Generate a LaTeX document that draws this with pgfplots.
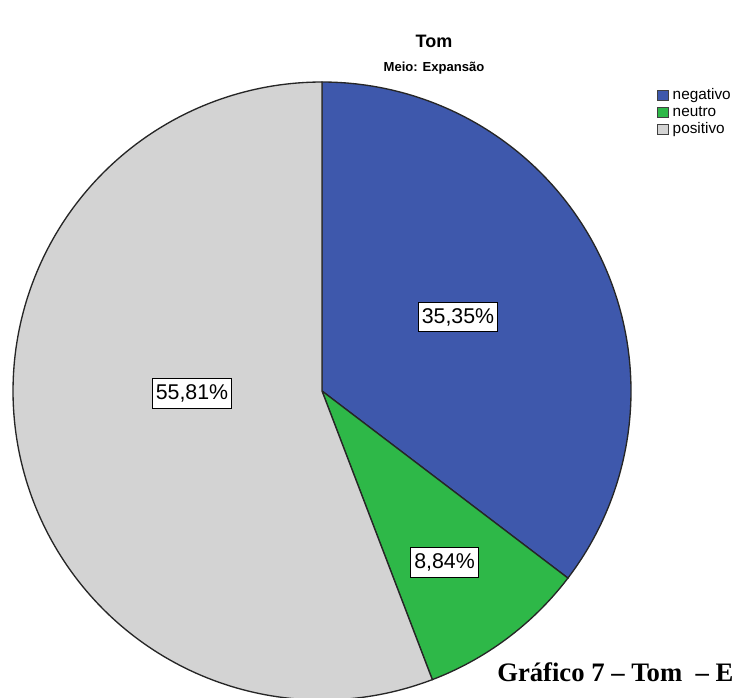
\documentclass[border=0pt]{standalone}
\usepackage{pgfplots}
\pgfplotsset{compat=1.18}
\usepackage{fontspec}
\setmainfont{Liberation Sans}
\newfontfamily\serifb{Liberation Serif}
\definecolor{negblue}{HTML}{3E58AC}
\definecolor{neugreen}{HTML}{2EB848}
\definecolor{posgrey}{HTML}{D3D3D3}
% shares in percent
\def\vneg{35.35}
\def\vneu{8.84}
\def\vpos{55.81}
\begin{document}
\begin{tikzpicture}[x=0.75pt,y=0.75pt]
\begin{axis}[
  scale only axis, width=550.5pt, height=522.75pt,
  xmin=0, xmax=734, ymin=0, ymax=697,
  hide axis, clip=true,
  legend cell align=left,
  legend style={at={(axis cs:657,609)}, anchor=north west, draw=none, fill=none,
    font=\fontsize{11.5pt}{13pt}\selectfont, row sep=1.6pt, inner sep=0pt,
    nodes={inner sep=0pt, text height=8.4pt, text depth=2.6pt},
    /tikz/every odd column/.append style={column sep=3pt}},
  legend image code/.code={\draw[#1,draw=black!75,line width=0.6pt] (0pt,-3.9pt) rectangle (8pt,3.9pt);},
]
\addplot[fill=negblue, draw=black!85, line width=1pt, domain={90-3.6*\vneg}:90, samples=120]
  ({322+309*cos(x)},{306+309*sin(x)}) -- (axis cs:322,306) -- cycle;
\addlegendentry{negativo}
\addplot[fill=neugreen, draw=black!85, line width=1pt, domain={90-3.6*(\vneg+\vneu)}:{90-3.6*\vneg}, samples=60]
  ({322+309*cos(x)},{306+309*sin(x)}) -- (axis cs:322,306) -- cycle;
\addlegendentry{neutro}
\addplot[fill=posgrey, draw=black!85, line width=1pt, domain={90-360}:{90-3.6*(\vneg+\vneu)}, samples=180]
  ({322+309*cos(x)},{306+309*sin(x)}) -- (axis cs:322,306) -- cycle;
\addlegendentry{positivo}

\coordinate (bl) at (rel axis cs:0,0);
\coordinate (tr) at (rel axis cs:1,1);

\node[anchor=base, font=\bfseries\fontsize{13.5pt}{16pt}\selectfont] at (axis cs:434,649) {Tom};
\node[anchor=base, font=\bfseries\fontsize{9.8pt}{12pt}\selectfont] at (axis cs:434,625) {Meio: Expansão};

\tikzset{lbl/.style={draw=black, line width=0.7pt, fill=white, inner xsep=2.5pt, inner ysep=4.5pt,
  font=\fontsize{16pt}{18pt}\selectfont}}
\node[lbl] at (axis cs:458,380) {35,35\%};
\node[lbl] at (axis cs:444.5,134.5) {8,84\%};
\node[lbl] at (axis cs:192,303.5) {55,81\%};

\node[anchor=base west, inner sep=0pt, font=\serifb\bfseries\fontsize{20pt}{23pt}\selectfont] at (axis cs:497,16) {Gráfico 7 – Tom \ – E};
\end{axis}
\pgfresetboundingbox
\path[use as bounding box] (bl) rectangle (tr);
\end{tikzpicture}
\end{document}
